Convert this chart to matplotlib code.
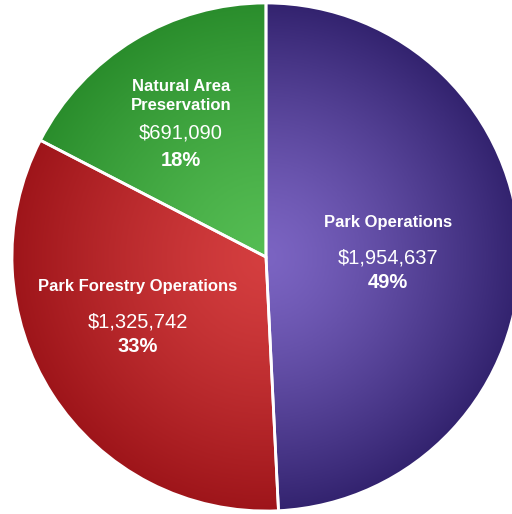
import numpy as np
import matplotlib.pyplot as plt
from matplotlib.colors import LinearSegmentedColormap

plt.rcParams['font.family'] = ['Liberation Sans', 'DejaVu Sans']

# budget slices
names = ["Park Operations", "Park Forestry Operations", "Natural Area\nPreservation"]
amounts = [1954637, 1325742, 691090]
percents = ["49%", "33%", "18%"]

# light (centre) / dark (rim) colour of each slice
light = ["#7b64c2", "#d43e3f", "#55bd53"]
dark = ["#33236f", "#9e151a", "#2a8d2c"]

W, H = 512, 514
fig = plt.figure(figsize=(W / 100, H / 100), dpi=100)
ax = fig.add_axes([0, 0, 1, 1])

cx, cy, r = 266, 514 - 257, 254

wedges, _ = ax.pie(amounts, startangle=90, counterclock=False,
                   center=(cx, cy), radius=r,
                   colors=light, wedgeprops=dict(edgecolor="white", linewidth=2))

# radial shading inside each slice
xx, yy = np.meshgrid(np.linspace(cx - r, cx + r, 400), np.linspace(cy - r, cy + r, 400))
dist = (np.sqrt((xx - cx) ** 2 + (yy - cy) ** 2) / r) ** 1.3
for w, c1, c2 in zip(wedges, light, dark):
    cmap = LinearSegmentedColormap.from_list("g", [c1, c2])
    im = ax.imshow(dist, cmap=cmap, vmin=0, vmax=1, origin="lower",
                   extent=[cx - r, cx + r, cy - r, cy + r], zorder=1)
    im.set_clip_path(w)
    w.set_zorder(2)
    w.set_facecolor("none")

# slice labels (pixel positions from top)
label_pos = [(388, 222), (138, 287), (181, 96)]
value_pos = [(388, 258), (138, 322), (181, 133)]
pct_pos = [(388, 282), (138, 346), (181, 160)]

for n, a, p, lp, vp, pp in zip(names, amounts, percents, label_pos, value_pos, pct_pos):
    ax.text(lp[0], H - lp[1], n, color="white", fontsize=12, fontweight="bold",
            ha="center", va="center", zorder=5, linespacing=1.35)
    ax.text(vp[0], H - vp[1], "${:,}".format(a), color="white", fontsize=14.5,
            ha="center", va="center", zorder=5)
    ax.text(pp[0], H - pp[1], p, color="white", fontsize=14.5, fontweight="bold",
            ha="center", va="center", zorder=5)

ax.set_xlim(0, W)
ax.set_ylim(0, H)
ax.set_aspect("equal")
ax.axis("off")

fig.savefig("out.png", dpi=100)
